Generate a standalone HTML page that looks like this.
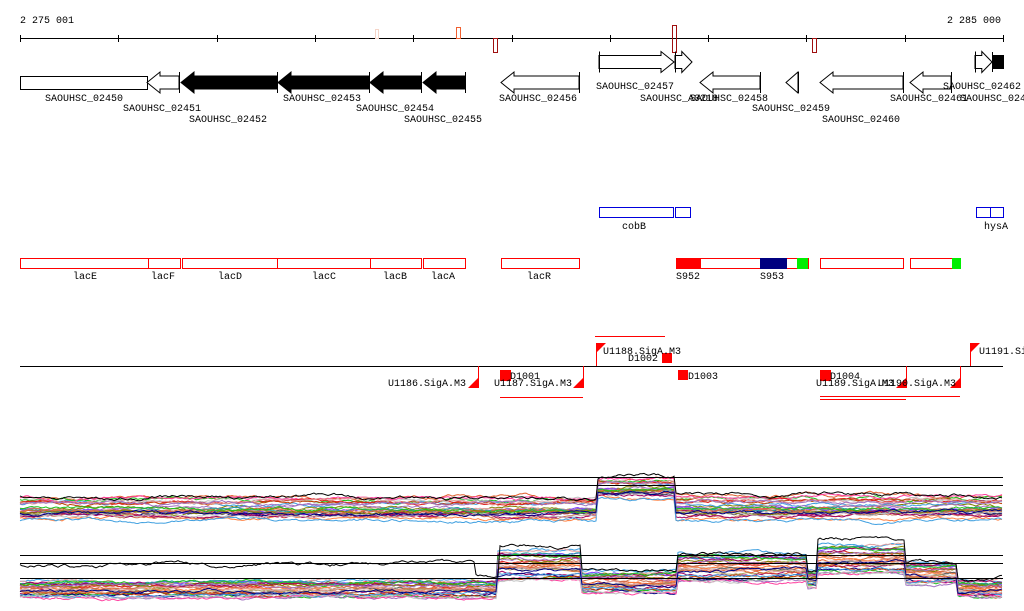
<!DOCTYPE html>
<html><head><meta charset="utf-8"><style>
html,body{margin:0;padding:0;background:#fff;}
svg{display:block;}
text{font-family:"Liberation Mono","DejaVu Sans Mono",monospace;font-size:10px;fill:#000;}
</style></head><body>
<svg id="s" width="1024" height="611" xmlns="http://www.w3.org/2000/svg">
<g id="shapes"></g>
<g id="sig"></g>
<text x="20" y="23">2 275 001</text>
<text x="1001" y="23" text-anchor="end">2 285 000</text>
<text x="45" y="101">SAOUHSC_02450</text>
<text x="123" y="111">SAOUHSC_02451</text>
<text x="189" y="122">SAOUHSC_02452</text>
<text x="283" y="101">SAOUHSC_02453</text>
<text x="356" y="111">SAOUHSC_02454</text>
<text x="404" y="122">SAOUHSC_02455</text>
<text x="499" y="101">SAOUHSC_02456</text>
<text x="596" y="89">SAOUHSC_02457</text>
<text x="640" y="101">SAOUHSC_A0218</text>
<text x="690" y="101">SAOUHSC_02458</text>
<text x="752" y="111">SAOUHSC_02459</text>
<text x="822" y="122">SAOUHSC_02460</text>
<text x="890" y="101">SAOUHSC_02461</text>
<text x="943" y="89">SAOUHSC_02462</text>
<text x="960" y="101">SAOUHSC_02463</text>
<text x="622" y="229">cobB</text>
<text x="984" y="229">hysA</text>
<text x="73" y="279">lacE</text>
<text x="151" y="279">lacF</text>
<text x="218" y="279">lacD</text>
<text x="312" y="279">lacC</text>
<text x="383" y="279">lacB</text>
<text x="431" y="279">lacA</text>
<text x="527" y="279">lacR</text>
<text x="676" y="279">S952</text>
<text x="760" y="279">S953</text>
<text x="388" y="386">U1186.SigA.M3</text>
<text x="510" y="379">D1001</text>
<text x="494" y="386">U1187.SigA.M3</text>
<text x="603" y="354">U1188.SigA.M3</text>
<text x="628" y="361">D1002</text>
<text x="688" y="379">D1003</text>
<text x="830" y="379">D1004</text>
<text x="816" y="386">U1189.SigA.M3</text>
<text x="878" y="386">U1190.SigA.M3</text>
<text x="979" y="354">U1191.SigA.M3</text>
</svg>
<script>
var NS="http://www.w3.org/2000/svg",G=document.getElementById("shapes"),S=document.getElementById("sig");
function el(p,t,a){var e=document.createElementNS(NS,t);for(var k in a)e.setAttribute(k,a[k]);p.appendChild(e);return e;}
function line(x1,y1,x2,y2,c,w){el(G,"line",{x1:x1,y1:y1,x2:x2,y2:y2,stroke:c||"#000","stroke-width":w||1});}
function rect(x,y,w,h,f,s){el(G,"rect",{x:x+.5,y:y+.5,width:w,height:h,fill:f||"none",stroke:s||"none"});}
line(20,38.5,1003,38.5);
for(var i=0;i<=10;i++){var x=Math.round(20+i*98.3)+.5;line(x,35,x,42);}
rect(375,29,3,9,"none","#f5d5c8");rect(456,27,4,11,"none","#f06030");
rect(493,38,4,14,"none","#a01010");rect(672,25,4,27,"none","#a01010");rect(812,38,4,14,"none","#a01010");
function arrow(x1,x2,yc,dir,fill,bar){var b=6.5,h=10.5,hl=Math.min(13,(x2-x1)*0.6),p;
 if(dir<0){p=[[x1,yc],[x1+hl,yc-h],[x1+hl,yc-b],[x2,yc-b],[x2,yc+b],[x1+hl,yc+b],[x1+hl,yc+h]];}
 else{p=[[x2,yc],[x2-hl,yc-h],[x2-hl,yc-b],[x1,yc-b],[x1,yc+b],[x2-hl,yc+b],[x2-hl,yc+h]];}
 el(G,"polygon",{points:p.map(function(q){return q.join(",")}).join(" "),fill:fill,stroke:"#000","stroke-width":1});
 if(bar!==false){var bx=dir<0?x2:x1;line(bx+.5,yc-h,bx+.5,yc+h);}}
rect(20,76,127,13,"#fff","#000");
arrow(147,179,82.5,-1,"#fff");
arrow(181,277,82.5,-1,"#000");arrow(278,369,82.5,-1,"#000");arrow(370,421,82.5,-1,"#000");arrow(423,465,82.5,-1,"#000");
arrow(501,579,82.5,-1,"#fff");
arrow(599,674,62,1,"#fff");arrow(675,692,62,1,"#fff");
arrow(700,760,82.5,-1,"#fff");
el(G,"polygon",{points:"786,82.5 798,72 798,93",fill:"#fff",stroke:"#000"});line(798.5,72,798.5,93);
arrow(820,903,82.5,-1,"#fff");arrow(910,951,82.5,-1,"#fff");
arrow(975,992,62,1,"#fff");rect(992,55,11,13,"#000","#000");line(992.5,52,992.5,72);
rect(599,207,74,10,"none","#0000dd");rect(675,207,15,10,"none","#0000dd");
rect(976,207,14,10,"none","#0000dd");rect(990,207,13,10,"none","#0000dd");
[[20,128],[148,32],[182,95],[277,93],[370,51],[423,42],[501,78],[676,132],[820,83],[910,50]].forEach(function(r){rect(r[0],258,r[1],10,"#fff","#ff0000");});
rect(676,258,24,10,"#ff0000","#ff0000");rect(760,258,26,10,"#000080","#000080");
rect(797,258,10,10,"#00ee00","#00ee00");rect(952,258,8,10,"#00ee00","#00ee00");
line(20,366.5,1003,366.5);
function flagDown(x,y){el(G,"polygon",{points:(x-11)+","+(y+11)+" "+x+","+(y+11)+" "+x+","+y,fill:"#f00"});}
function flagUp(x,y){el(G,"polygon",{points:x+","+y+" "+(x+10)+","+y+" "+x+","+(y+10),fill:"#f00"});}
[[478,366,388],[583,366,388],[906,366,388],[960,366,388]].forEach(function(f){line(f[0]+.5,f[1],f[0]+.5,f[2]-10,"#f00");flagDown(f[0]+1,f[2]-11);});
line(596.5,343,596.5,366,"#f00");flagUp(596,343);
line(970.5,343,970.5,366,"#f00");flagUp(970,343);
rect(500,370,10,10,"#f00","#f00");rect(662,353,9,9,"#f00","#f00");rect(678,370,9,9,"#f00","#f00");rect(820,370,10,10,"#f00","#f00");
line(595,336.5,665,336.5,"#f00");line(500,397.5,583,397.5,"#f00");
line(820,396.5,960,396.5,"#f00");line(820,399.5,906,399.5,"#f00");
var seed=7;function rnd(){seed=(seed*16807)%2147483647;return seed/2147483647;}
var cols=["#e06030","#d07050","#808000","#a00060","#40a0e0","#20c020","#c0c0c0","#e0a0a0","#a070c0","#000080","#ff8040","#606060","#c04000","#b0a060","#ff40a0","#8040ff","#e02020","#20a0a0"];
function trace(segs,off,c,amp){var pts=[],jit=0;
  for(var x=20;x<=1003;x+=2){var lv=null;for(var j=0;j<segs.length;j++){if(x>=segs[j][0]&&x<segs[j][1]){lv=segs[j];break;}}
   if(!lv)lv=segs[segs.length-1];jit+=(rnd()-.5)*amp;jit*=0.93;
   var y=lv[2]+off*(lv[3]-lv[2])+jit;pts.push(x+","+y.toFixed(1));}
  el(S,"polyline",{points:pts.join(" "),fill:"none",stroke:c,"stroke-width":1});}
function panel(segs,n){for(var k=0;k<n;k++)trace(segs,rnd(),cols[k%cols.length],2);}
panel([[20,597,497,522],[597,676,478,500],[676,1003,495,522]],28);
trace([[20,597,497,497],[597,676,476,476],[676,1003,494,494]],0,"#000",2.5);
panel([[20,498,578,598],[498,581,545,582],[581,678,568,594],[678,808,550,582],[808,818,568,588],[818,906,540,575],[906,958,560,585],[958,1004,578,598]],28);
trace([[20,475,565,565],[475,500,578,578],[500,581,546,546],[581,678,570,570],[678,808,553,553],[808,818,570,570],[818,906,539,539],[906,958,563,563],[958,1004,578,578]],0,"#000",2.5);
[477,485,555,563,578].forEach(function(y){el(S,"line",{x1:20,x2:1003,y1:y+.5,y2:y+.5,stroke:"#000"});});
</script>
</body></html>
